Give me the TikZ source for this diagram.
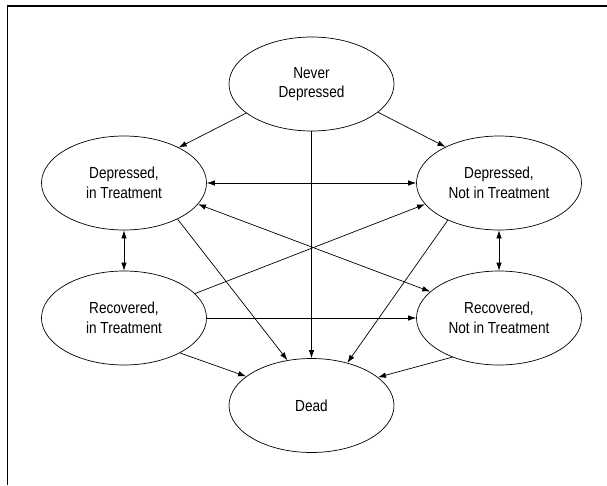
\documentclass[tikz,border=0pt]{standalone}
\usepackage{fontspec}
\setmainfont{Liberation Sans}[FakeStretch=0.85]
\usetikzlibrary{shapes.geometric,arrows.meta}
\begin{document}
\begin{tikzpicture}[x=1pt,y=-1pt,
  state/.style={draw, line width=0.7pt, ellipse, minimum width=165pt, minimum height=94pt, inner sep=0pt, align=center, font=\fontsize{16}{19.5}\selectfont},
  arr/.style={line width=0.7pt, -{Latex[length=8pt,width=5.5pt]}},
  darr/.style={line width=0.7pt, {Latex[length=8pt,width=5.5pt]}-{Latex[length=8pt,width=5.5pt]}},
  frame/.style={line width=1.3pt}]
\useasboundingbox (0,0) rectangle (607,485);
\coordinate (fa) at (7.5,485);
\coordinate (fb) at (7.5,6);
\coordinate (fc) at (607,6);
\draw[frame] (fa) -- (fb) -- (fc);
\node[state] (N)  at (311.5,84)  {Never\\Depressed};
\node[state] (DT) at (124,183)   {Depressed,\\in Treatment};
\node[state] (DN) at (499,183)   {Depressed,\\Not in Treatment};
\node[state] (RT) at (124,318)   {Recovered,\\in Treatment};
\node[state] (RN) at (499,318)   {Recovered,\\Not in Treatment};
\node[state] (D)  at (311.5,405.5) {Dead};
\draw[arr] (N.204) -- (DT.33);
\draw[arr] (N.337.5) -- (DN.146);
\draw[arr] (N) -- (D);
\draw[darr] (DT) -- (DN);
\draw[darr] (DT.344) -- (RN.159);
\draw[arr] (RT.19) -- (DN.196);
\draw[arr] (DT.326) -- (D.118);
\draw[arr] (DN.216) -- (D.50);
\draw[darr] (DT) -- (RT);
\draw[darr] (DN) -- (RN);
\draw[arr] (RT) -- (RN);
\draw[arr] (RT.328) -- (D.156);
\draw[arr] (RN.220) -- (D.23);
\end{tikzpicture}
\end{document}
